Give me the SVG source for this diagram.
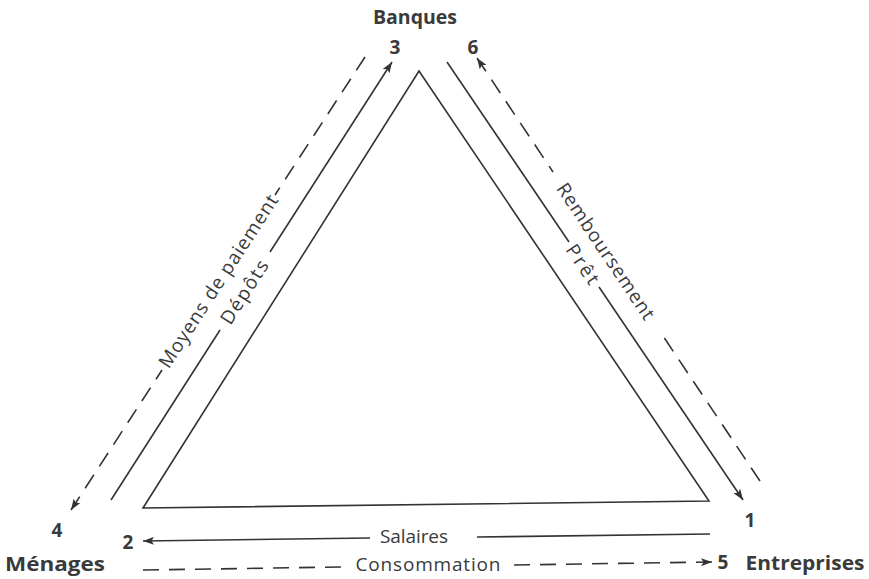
<svg xmlns="http://www.w3.org/2000/svg" width="869" height="579" viewBox="0 0 869 579">
<defs>
<marker id="ah" viewBox="0 0 11 8" refX="11" refY="4" markerWidth="11" markerHeight="8" markerUnits="userSpaceOnUse" orient="auto-start-reverse">
<path d="M0,0 L11,4 L0,8 L2.5,4 z" fill="#333"/>
</marker>
<style>
.ln{stroke:#333;stroke-width:1.6;fill:none}
.ds{stroke:#333;stroke-width:1.6;fill:none;stroke-dasharray:16 10}
.tri{stroke:#333;stroke-width:1.6;fill:none;stroke-linejoin:miter}
.lbl{font-family:"Open Sans","Liberation Sans",sans-serif;font-size:19px;fill:#3a3a3a;text-anchor:middle;dominant-baseline:central}
.nd{font-family:"Open Sans","Liberation Sans",sans-serif;font-size:19px;font-weight:bold;fill:#3a3a3a;text-anchor:middle;dominant-baseline:central}
</style>
</defs>
<rect width="869" height="579" fill="#fff"/>
<g id="triangle">
<path class="tri" d="M419,71 L709,501 L143,508 Z"/>
</g>
<g id="banques">
<text class="nd" x="415" y="17" textLength="84" lengthAdjust="spacingAndGlyphs">Banques</text>
<text class="nd" x="395" y="47">3</text>
<text class="nd" x="473" y="47">6</text>
</g>
<g id="menages">
<text class="nd" x="55" y="564" textLength="100" lengthAdjust="spacingAndGlyphs">Ménages</text>
<text class="nd" x="57" y="530">4</text>
<text class="nd" x="128" y="542">2</text>
</g>
<g id="entreprises">
<text class="nd" x="805" y="563" textLength="119" lengthAdjust="spacingAndGlyphs">Entreprises</text>
<text class="nd" x="750" y="520">1</text>
<text class="nd" x="723" y="562">5</text>
</g>
<g id="connectors">
<line class="ln" x1="111" y1="500" x2="220" y2="330"/>
<line class="ln" x1="270" y1="252" x2="392" y2="62" marker-end="url(#ah)"/>
<text class="lbl" transform="translate(244,292) rotate(-57.3)" textLength="72" lengthAdjust="spacing">Dépôts</text>
<line class="ds" x1="365" y1="57" x2="275" y2="195"/>
<line class="ds" x1="71" y1="510" x2="162" y2="370" marker-start="url(#ah)"/>
<text class="lbl" transform="translate(218,281) rotate(-57)" textLength="202" lengthAdjust="spacing">Moyens de paiement</text>
<line class="ln" x1="447" y1="62" x2="569" y2="242"/>
<line class="ln" x1="599" y1="287" x2="743" y2="500" marker-end="url(#ah)"/>
<text class="lbl" transform="translate(583,264) rotate(56)" textLength="44" lengthAdjust="spacing">Prêt</text>
<line class="ds" x1="477" y1="58" x2="553" y2="172" marker-start="url(#ah)"/>
<line class="ds" x1="760" y1="481" x2="659" y2="330"/>
<text class="lbl" transform="translate(606,251) rotate(56.2)" textLength="160" lengthAdjust="spacing">Remboursement</text>
<line class="ln" x1="710" y1="534" x2="477" y2="537"/>
<line class="ln" x1="370" y1="538" x2="143" y2="541" marker-end="url(#ah)"/>
<text class="lbl" x="414" y="536" textLength="68" lengthAdjust="spacing">Salaires</text>
<line class="ds" x1="143" y1="570" x2="343" y2="567"/>
<line class="ds" x1="712" y1="562" x2="513" y2="565" marker-start="url(#ah)"/>
<text class="lbl" x="428" y="564" textLength="145" lengthAdjust="spacing">Consommation</text>
</g>
</svg>
